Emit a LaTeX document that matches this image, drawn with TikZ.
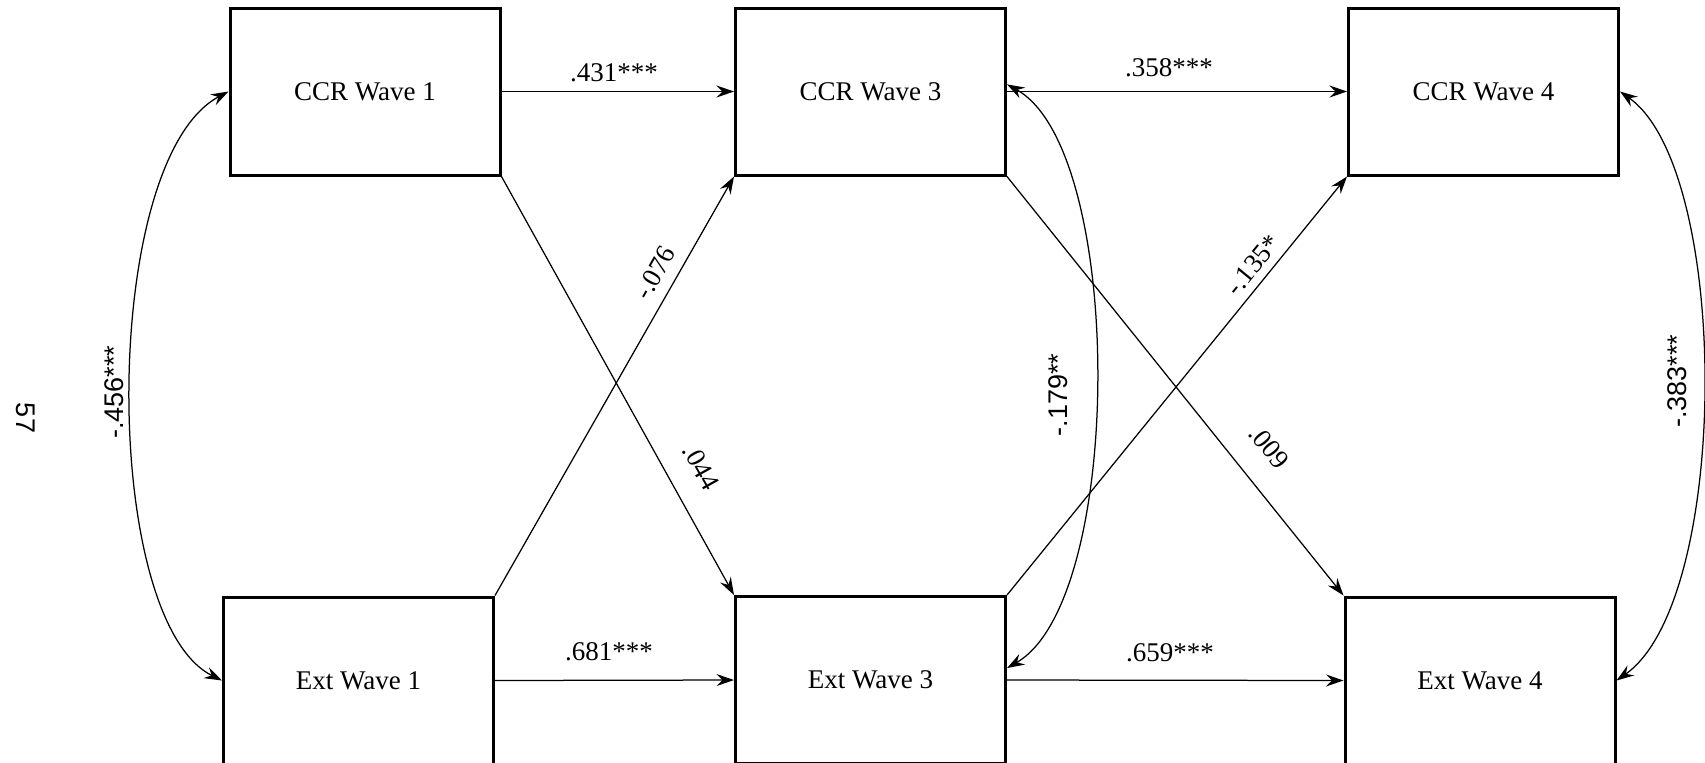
\documentclass[tikz,border=0pt]{standalone}
\usepackage{fontspec}
\setmainfont{Liberation Serif}
\newfontfamily\lsans{Liberation Sans}
\usetikzlibrary{arrows.meta}
\begin{document}
\begin{tikzpicture}[x=0.4pt,y=-0.4pt,
  var/.style={draw,line width=1.2pt,minimum width=108pt,minimum height=66.8pt,inner sep=0pt,font=\fontsize{10.8}{13}\selectfont},
  conn/.style={line width=0.5pt,-{Stealth[length=7pt,width=4.8pt,inset=2.4pt]}},
  dconn/.style={line width=0.5pt,{Stealth[length=7pt,width=4.8pt,inset=2.4pt]}-{Stealth[length=7pt,width=4.8pt,inset=2.4pt]}},
  coef/.style={font=\fontsize{10.8}{13}\selectfont,inner sep=0pt},
  scoef/.style={font=\lsans\fontsize{10.8}{13}\selectfont,inner sep=0pt,rotate=90}]
\useasboundingbox (0,0) rectangle (1705,762);
% boxes
\node[var] (C1) at (365,91.5) {CCR Wave 1};
\node[var] (C3) at (870.5,91.5) {CCR Wave 3};
\node[var] (C4) at (1483.5,91.5) {CCR Wave 4};
\node[var] (E1) at (358.5,680.5) {Ext Wave 1};
\node[var] (E3) at (870.5,680) {Ext Wave 3};
\node[var] (E4) at (1480,680.5) {Ext Wave 4};
% straight paths
\draw[conn] (C1.east) -- (C3.west);
\draw[conn] (E1.east) -- (E3.west);
\draw[conn] (C3.east) -- (C4.west);
\draw[conn] (E3.east) -- (E4.west);
\draw[conn] (C1.south east) -- (E3.north west);
\draw[conn] (E1.north east) -- (C3.south west);
\draw[conn] (C3.south east) -- (E4.north west);
\draw[conn] (E3.north east) -- (C4.south west);
% covariances
\draw[dconn] (C1.west) .. controls (100,160) and (100,620) .. (E1.west);
\draw[dconn] (C3.3) .. controls (1125,150) and (1125,600) .. (E3.5);
\draw[dconn] (C4.east) .. controls (1731,170) and (1731,600) .. (E4.east);
% labels
\node[coef] (l431) at (614,73) {.431***};
\node[coef] (l681) at (609,652) {.681***};
\node[coef] (l358) at (1169,68) {.358***};
\node[coef] (l659) at (1170,653) {.659***};
\node[coef,rotate=60.2] (l076) at (655,273) {-.076};
\node[coef,rotate=-60.7] (l044) at (701,467) {.044};
\node[coef,rotate=-51.1] (l009) at (1269,447) {.009};
\node[coef,rotate=50.7] (l135) at (1253,265) {-.135*};
\node[scoef] (l456) at (114,392) {-.456***};
\node[scoef] (l179) at (1058,395) {-.179**};
\node[scoef] (l383) at (1677,381) {-.383***};
\node[font=\lsans\fontsize{10.8}{13}\selectfont,inner sep=0pt,rotate=-90] (pg) at (26,418) {57};
\end{tikzpicture}
\end{document}
